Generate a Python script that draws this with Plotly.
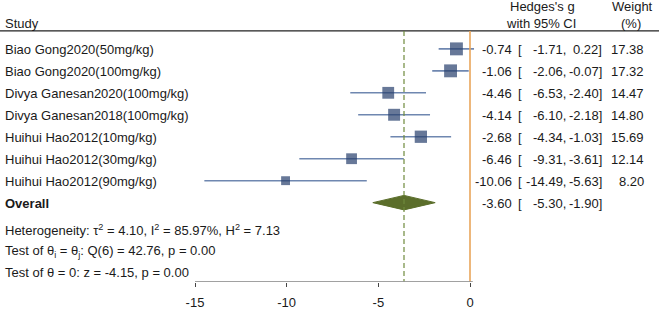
import plotly.graph_objects as go
import math

studies = ["Biao Gong2020(50mg/kg)", "Biao Gong2020(100mg/kg)", "Divya Ganesan2020(100mg/kg)",
           "Divya Ganesan2018(100mg/kg)", "Huihui Hao2012(10mg/kg)", "Huihui Hao2012(30mg/kg)",
           "Huihui Hao2012(90mg/kg)"]
est = [-0.74, -1.06, -4.46, -4.14, -2.68, -6.46, -10.06]
lo = [-1.71, -2.06, -6.53, -6.10, -4.34, -9.31, -14.49]
hi = [0.22, -0.07, -2.40, -2.18, -1.03, -3.61, -5.63]
weight = [17.38, 17.32, 14.47, 14.80, 15.69, 12.14, 8.20]
overall = {"est": -3.60, "lo": -5.30, "hi": -1.90}
tickvals = [-15, -10, -5, 0]
footer = ["Heterogeneity: τ<sup>2</sup> = 4.10, I<sup>2</sup> = 85.97%, H<sup>2</sup> = 7.13",
          "Test of θ<sub>i</sub> = θ<sub>j</sub>: Q(6) = 42.76, p = 0.00",
          "Test of θ = 0: z = -4.15, p = 0.00"]

W, H = 659, 310
FONT = "Liberation Sans, Arial, sans-serif"
TXT = "#1a1a1a"
FS = 13

def px(p):
    return p / W

def py(p):
    return 1 - p / H

ROW0, STEP, AXB = 50.5, 22.7, 291.0
y_top = (0 - ROW0) / STEP
y_bot = (AXB - ROW0) / STEP
upp = 15 / (470 - 195)
x_left = -15 - 195 * upp
x_right = 0 + (W - 470) * upp

fig = go.Figure()
rows = list(range(len(studies)))
n = len(studies)

for i in rows:
    fig.add_trace(go.Scatter(x=[lo[i], hi[i]], y=[i, i], mode="lines",
                             line=dict(color="#6f87b0", width=1.6), hoverinfo="skip", showlegend=False))
fig.add_trace(go.Scatter(x=est, y=rows, mode="markers",
                         marker=dict(symbol="square", color="#263f6c",
                                     size=[3.1 * math.sqrt(w) for w in weight], line=dict(width=0)),
                         showlegend=False, hoverinfo="skip"))
yo = n
hh = 0.33
fig.add_trace(go.Scatter(x=[overall["lo"], overall["est"], overall["hi"], overall["est"], overall["lo"]],
                         y=[yo, yo - hh, yo, yo + hh, yo], mode="lines", fill="toself",
                         fillcolor="#5b6e2b", line=dict(color="#5b6e2b", width=1),
                         showlegend=False, hoverinfo="skip"))

y_hdr = (32 - ROW0) / STEP
shapes = [
    dict(type="line", xref="paper", yref="paper", x0=0, x1=1, y0=py(32), y1=py(32),
         line=dict(color="#222222", width=1.3)),
    dict(type="line", xref="x", yref="y", x0=0, x1=0, y0=y_hdr, y1=y_bot,
         line=dict(color="#e9a55a", width=1.6)),
    dict(type="line", xref="x", yref="y", x0=overall["est"], x1=overall["est"], y0=y_hdr, y1=y_bot,
         line=dict(color="#6f8a3c", width=1.2, dash="5px,3px")),
    dict(type="line", xref="x", yref="y", x0=tickvals[0], x1=0.15, y0=y_bot, y1=y_bot,
         line=dict(color="#444444", width=1.2)),
]

ann = []
def T(text, x, y, anchor="left", bold=False):
    ann.append(dict(text=("<b>%s</b>" % text) if bold else text, x=px(x), y=py(y),
                    xref="paper", yref="paper", xanchor=anchor, yanchor="middle",
                    showarrow=False, font=dict(family=FONT, size=FS, color=TXT)))

T("Study", 3, 24)
T("Hedges's g", 542, 7, "center")
T("with 95% CI", 541, 24, "center")
T("Weight", 632, 7, "center")
T("(%)", 631, 24, "center")
for i in rows:
    yp = ROW0 + STEP * i + 1
    T(studies[i], 3, yp)
    T("%.2f" % est[i], 514, yp, "right")
    T("[", 516, yp, "left")
    T("%.2f," % lo[i], 568, yp, "right")
    T("%.2f]" % hi[i], 604, yp, "right")
    T("%.2f" % weight[i], 646, yp, "right")
yp = ROW0 + STEP * n + 1
T("Overall", 3, yp, bold=True)
T("%.2f" % overall["est"], 514, yp, "right")
T("[", 516, yp, "left")
T("%.2f," % overall["lo"], 568, yp, "right")
T("%.2f]" % overall["hi"], 604, yp, "right")
for f, yy in zip(footer, [237.5, 259.5, 281.5]):
    T(f, 3, yy)

fig.update_layout(
    width=W, height=H, margin=dict(l=0, r=0, t=0, b=0),
    paper_bgcolor="white", plot_bgcolor="white",
    shapes=shapes, annotations=ann,
    xaxis=dict(domain=[0, 1], range=[x_left, x_right], tickvals=tickvals,
               ticktext=[str(v) for v in tickvals], ticks="outside", ticklen=4,
               ticklabelstandoff=5,
               tickcolor="#444444", tickwidth=1.2, showline=False, showgrid=False,
               zeroline=False, tickfont=dict(family=FONT, size=FS, color=TXT), fixedrange=True),
    yaxis=dict(domain=[(H - AXB) / H, 1], range=[y_bot, y_top], showticklabels=False,
               showgrid=False, zeroline=False, showline=False, ticks="", fixedrange=True),
)
fig.write_html("out.html")
